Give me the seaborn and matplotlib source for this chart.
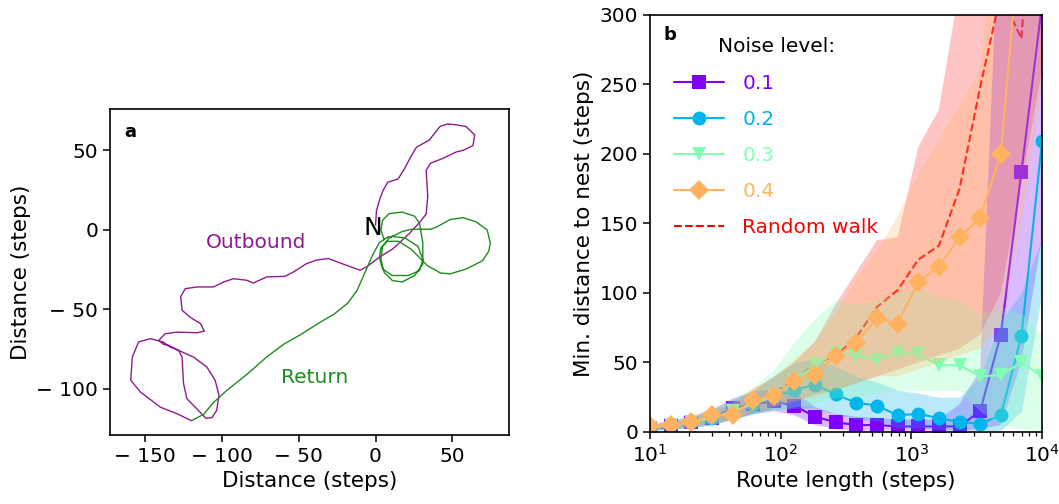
import numpy as np
import pandas as pd
import seaborn as sns
import matplotlib.pyplot as plt
from matplotlib.ticker import FuncFormatter

# ---- panel a: one example route (steps) ----
out_x = [0, 0.6, 3, 5, 8, 14.7, 19, 23, 26.7, 35, 42, 47, 53, 59, 64.6, 63.5, 57, 52.6, 44, 36,
         33, 34, 33, 29, 22, 11.5, 2.8, -5.9, -10, -18.9, -30.8, -38.4, -44.9, -53.5, -59, -70.9,
         -79.6, -83.9, -92.6, -99, -105.6, -116.4, -124, -127, -126, -120.7, -114, -111.6, -116.4,
         -129.4, -137, -141.3, -138.1, -134.8, -128.3, -118.6, -109.9, -104.5, -102, -103.5, -106.5,
         -110.5, -117.5, -122.9, -125.1, -126.1, -128.3, -133.7, -138.5, -146.7, -154.4, -158.5,
         -159.5, -153.2, -140.2, -129.4, -120]
out_y = [3, 12, 20, 25, 30, 32, 38.7, 46, 52, 56.5, 65, 66.6, 66, 65, 59.7, 53, 50, 49, 45, 42,
         37.6, 21, 10, 5, -2.3, -11.8, -17, -23.3, -25.4, -22.3, -18, -19, -21.2, -26.5, -29.2, -29.6,
         -33.4, -31.7, -30.7, -32.8, -35.9, -35.9, -37, -42, -50.6, -55, -59, -63.7, -64.7,
         -64.3, -65.3, -69.5, -72, -72.6, -75.8, -80, -86.3, -94.6, -104.1, -113.5, -118,
         -118.5, -111.5, -106.2, -96.7, -80, -75.8, -73.7, -70.5, -68.4, -70.5, -80,
         -94.6, -102, -111.5, -115.6, -120]

ret_x = [-120, -112, -106, -97, -84, -71, -60, -49, -36, -27, -18, -12, -7, -2, 2.5, 8,
         10.9, 19.3, 27.6, 30.8, 28.7, 21.4, 10.9, 4.6, 2.5, 3.5, 7.7, 15.1, 23.4, 33.9, 42.3,
         48.6, 59.1, 69.6, 73.8, 74.8, 72.7, 65.4, 57, 48.6, 40.2, 36, 23.4, 17.2, 8.8, 4.6, 3.5,
         5.6, 10.9, 17.2, 25.5, 30.8, 30.8, 28.7, 25.5, 17.2, 8.8, 4.6, 3.5, 5.6]
ret_y = [-120, -116, -109, -101, -91, -80, -72, -66, -58, -53, -46, -38, -27, -16, -8, -4.5,
         -4.1, -5.2, -10.3, -18.5, -25.6, -28.7, -28.7, -24.6, -17.4, -11.3, -7.2, -7.2, -12.3,
         -22.6, -27.1, -27.7, -24.6, -19.5, -13.4, -8.2, 0, 5.1, 7.7, 6.5, 2.0, 0.4, 0.4, -1.1,
         -5.2, -10.3, -18.5, -26.7, -31.8, -32.8, -28.7, -21.5, -8.2, 4.1, 8.6, 11.2, 10.2, 6.1,
         0, -6.2]

# ---- panel b: minimum distance to nest vs route length ----
route_len = [10, 14.4, 20.7, 29.8, 42.8, 61.6, 88.6, 127, 183, 264, 379, 546, 785, 1129,
             1624, 2336, 3360, 4833, 6952, 10000]
noise_levels = ["0.1", "0.2", "0.3", "0.4"]
noise_markers = ["s", "o", "v", "D"]

mean_01 = [3, 5, 7, 10, 17, 20, 22, 19, 11, 7, 5, 5, 4, 4, 4, 4, 15, 70, 187, 308]
mean_02 = [3, 5, 7, 10, 15, 20, 25, 30, 34, 27, 21, 19, 12, 13, 10, 7, 6, 12, 69, 209]
mean_03 = [3, 5, 7, 10, 15, 20, 26, 37, 48, 57, 55, 52, 57, 56, 48, 48, 40, 41, 50, 40]
mean_04 = [4, 5, 7, 12, 12, 23, 26, 37, 41, 55, 64, 82, 78, 108, 119, 140, 154, 200, 370, 600]
mean_rw = [2, 4, 6, 10, 14, 21, 28, 37, 49, 55, 68, 90, 102, 124, 134, 175, 248, 315, 283, 500]

lo_01 = [1, 2, 3, 5, 9, 13, 15, 12, 5, 2, 1, 1, 1, 1, 1, 1, 2, 5, 50, 140]
hi_01 = [5, 8, 11, 16, 24, 29, 31, 29, 18, 13, 11, 10, 9, 9, 9, 20, 45, 400, 500, 600]
lo_02 = [1, 2, 3, 5, 9, 13, 16, 17, 17, 13, 9, 8, 3, 3, 2, 1, 1, 1, 15, 100]
hi_02 = [5, 8, 11, 16, 23, 30, 40, 50, 53, 47, 40, 36, 30, 28, 25, 25, 40, 80, 100, 140]
lo_03 = [1, 2, 3, 5, 9, 13, 15, 18, 20, 25, 25, 28, 30, 30, 30, 30, 15, 5, 2, 1]
hi_03 = [5, 8, 11, 16, 24, 32, 45, 65, 82, 95, 92, 95, 100, 105, 97, 95, 85, 90, 85, 70]
lo_04 = [2, 3, 4, 7, 8, 15, 18, 22, 25, 30, 35, 40, 40, 45, 50, 55, 60, 80, 150, 250]
hi_04 = [6, 8, 11, 17, 20, 32, 38, 52, 65, 85, 110, 130, 155, 185, 210, 235, 260, 400, 500, 600]
lo_rw = [1, 2, 4, 6, 9, 13, 17, 22, 27, 30, 35, 40, 45, 50, 55, 60, 70, 100, 180, 260]
hi_rw = [4, 6, 9, 14, 20, 30, 40, 50, 65, 92, 115, 138, 140, 205, 232, 320, 400, 450, 500, 550]

means = [mean_01, mean_02, mean_03, mean_04]
lows = [lo_01, lo_02, lo_03, lo_04]
highs = [hi_01, hi_02, hi_03, hi_04]

sns.set_style("ticks")
plt.rcParams["font.family"] = ["DejaVu Sans"]
plt.rcParams["font.size"] = 14.5
plt.rcParams["axes.linewidth"] = 1.2
for key in ["text.color", "axes.labelcolor", "xtick.color", "ytick.color", "axes.edgecolor"]:
    plt.rcParams[key] = "black"

cols = plt.cm.rainbow(np.linspace(0, 1, 5))

fig = plt.figure(figsize=(10.59, 5.04), dpi=100)
ax1 = fig.add_axes([0.1039, 0.1369, 0.3768, 0.6468])
ax2 = fig.add_axes([0.6138, 0.1429, 0.3702, 0.8274])

# panel a
sns.lineplot(x=out_x, y=out_y, sort=False, estimator=None, color="#8f1a8f", lw=1.0, ax=ax1)
sns.lineplot(x=ret_x, y=ret_y, sort=False, estimator=None, color="#1f8c1f", lw=1.0, ax=ax1)
ax1.set_xlim(-173, 87)
ax1.set_ylim(-129, 76)
ax1.set_xticks([-150, -100, -50, 0, 50])
ax1.set_yticks([-100, -50, 0, 50])
fmt = FuncFormatter(lambda v, p: f"\u2212 {abs(int(v))}" if v < 0 else f"{int(v)}")
ax1.xaxis.set_major_formatter(fmt)
ax1.yaxis.set_major_formatter(fmt)
ax1.set_xlabel("Distance (steps)", fontsize=15.5)
ax1.set_ylabel("Distance (steps)", fontsize=15.5)
ax1.text(-78, -8, "Outbound", color="#8f1a8f", fontsize=14.5, ha="center", va="center")
ax1.text(-40, -93, "Return", color="#1f8c1f", fontsize=14.5, ha="center", va="center")
ax1.text(-1.5, 1, "N", color="black", fontsize=18, ha="center", va="center")
ax1.text(0.05, 0.93, "a", transform=ax1.transAxes, fontsize=13, fontweight="bold",
         ha="center", va="center")

# panel b: bands go on top of the markers, drawn in order
sns.lineplot(x=route_len, y=mean_rw, color=cols[4], ls="--", lw=1.5, ax=ax2, label="Random walk")
ax2.fill_between(route_len, lo_rw, hi_rw, color=cols[4], alpha=0.23, lw=0, zorder=2)
for i in range(4):
    sns.lineplot(x=route_len, y=means[i], color=cols[i], lw=1.5, marker=noise_markers[i],
                 markersize=10, markeredgewidth=0, ax=ax2, label=noise_levels[i])
    ax2.fill_between(route_len, lows[i], highs[i], color=cols[i], alpha=0.27, lw=0, zorder=2)

ax2.set_xscale("log")
ax2.set_xlim(10, 1e4)
ax2.set_ylim(0, 300)
ax2.set_yticks([0, 50, 100, 150, 200, 250, 300])
ax2.set_xlabel("Route length (steps)", fontsize=15.5)
ax2.set_ylabel("Min. distance to nest (steps)", fontsize=15.5)
ax2.text(0.05, 0.952, "b", transform=ax2.transAxes, fontsize=13, fontweight="bold",
         ha="center", va="center")

handles, labels = ax2.get_legend_handles_labels()
order = [1, 2, 3, 4, 0]
leg = ax2.legend([handles[k] for k in order], [labels[k] for k in order],
                 title="Noise level:", loc="upper left", bbox_to_anchor=(0.03, 0.975),
                 frameon=False, fontsize=14.5, title_fontsize=14.5, handlelength=2.5,
                 handletextpad=0.9, labelspacing=0.85, borderaxespad=0.2)
leg.set_zorder(5)
for txt, k in zip(leg.get_texts(), order):
    txt.set_color(cols[4] if k == 0 else cols[k - 1])

for ax in (ax1, ax2):
    ax.tick_params(which="major", direction="out", length=5, width=1.1)
    ax.tick_params(which="minor", direction="out", length=3, width=0.9)
    for s in ax.spines.values():
        s.set_visible(True)
        s.set_color("black")

fig.savefig("out.png", dpi=100)
